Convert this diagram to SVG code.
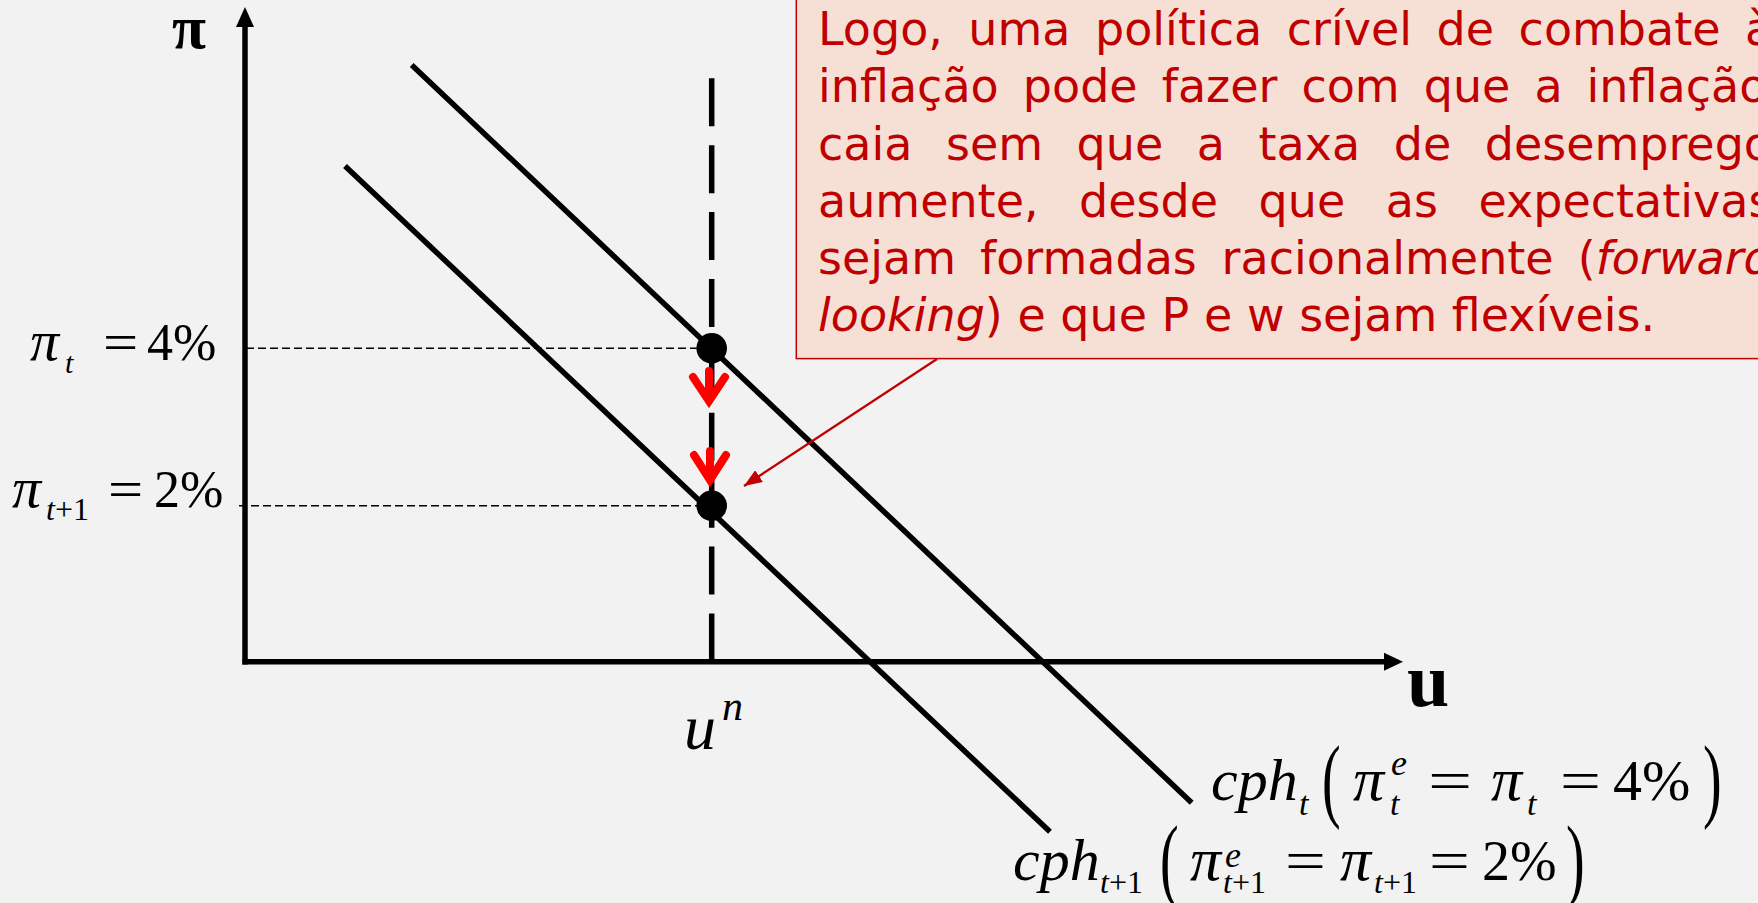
<svg xmlns="http://www.w3.org/2000/svg" width="1758" height="903" viewBox="0 0 1758 903">
<style>
.ax{stroke:#000;stroke-width:5.5;fill:none}
.cv{stroke:#000;stroke-width:5.5;fill:none;stroke-linecap:butt}
.dot{stroke:#000;stroke-width:1.6;stroke-dasharray:8 4;fill:none}
.red{stroke:#FF0000;stroke-width:8;fill:none;stroke-linecap:round;stroke-linejoin:miter}
.m{font-family:"Liberation Serif","Times New Roman",serif;fill:#000}
.i{font-style:italic}
.ct{font-family:"DejaVu Sans","Verdana",sans-serif;font-size:46px;fill:#C00000}
</style>
<defs>
<marker id="ah" markerUnits="userSpaceOnUse" markerWidth="20" markerHeight="14" refX="18" refY="7" orient="auto">
<path d="M0,0 L18,7 L0,14 Z" fill="#C00000"/>
</marker>
</defs>
<rect width="1758" height="903" fill="#F2F2F2"/>

<g id="axes">
<line class="ax" x1="245" y1="24" x2="245" y2="664.5"/>
<polygon points="245,7 236,27 254,27" fill="#000"/>
<line class="ax" x1="242.5" y1="661.7" x2="1386" y2="661.7"/>
<polygon points="1403,661.7 1384,652.7 1384,670.7" fill="#000"/>
<text class="m" x="172" y="48" font-size="62" font-weight="bold">π</text>
<text class="m" x="1407" y="706" font-size="76" font-weight="bold">u</text>
</g>

<g id="guides">
<line class="dot" x1="246" y1="348.3" x2="700" y2="348.3"/>
<line class="dot" x1="239" y1="505.7" x2="700" y2="505.7"/>
<line x1="711.7" y1="78.3" x2="711.7" y2="661" stroke="#000" stroke-width="5.5" stroke-dasharray="48 18.9"/>
</g>

<g id="curves">
<line class="cv" x1="411.7" y1="65" x2="1191.7" y2="802.7"/>
<line class="cv" x1="345" y1="166" x2="1050" y2="831.7"/>
</g>

<g id="points">
<circle cx="711.7" cy="348.3" r="15.3" fill="#000"/>
<circle cx="711.7" cy="505.7" r="15.3" fill="#000"/>
</g>

<g id="connectors">
<g id="drop1">
<line class="red" x1="709" y1="371" x2="709" y2="399"/>
<polyline class="red" points="693,377 709,401 725,377"/>
</g>
<g id="drop2">
<line class="red" x1="710" y1="451" x2="710" y2="478"/>
<polyline class="red" points="694,455 710,480 726,455"/>
</g>
<line id="pointer" x1="937" y1="359" x2="744" y2="486" stroke="#C00000" stroke-width="2.2" marker-end="url(#ah)"/>
</g>

<g id="label-pit">
<text class="m i" x="30" y="360" font-size="58">π</text>
<text class="m i" x="65" y="373" font-size="30">t</text>
<text class="m" transform="translate(103,360) scale(1.2,1)" font-size="52">=</text>
<text class="m" x="147" y="360" font-size="52">4%</text>
</g>
<g id="label-pit1">
<text class="m i" x="12" y="507" font-size="58">π</text>
<text class="m i" x="46" y="520" font-size="32">t<tspan font-style="normal">+1</tspan></text>
<text class="m" transform="translate(108,507) scale(1.2,1)" font-size="52">=</text>
<text class="m" x="154" y="507" font-size="52">2%</text>
</g>
<g id="label-un">
<text class="m i" x="684" y="749" font-size="64">u</text>
<text class="m i" x="722" y="720" font-size="42">n</text>
</g>

<g id="label-cpht">
<text class="m i" x="1211" y="800" font-size="60">cph</text>
<text class="m i" x="1299" y="815" font-size="34">t</text>
<text class="m" transform="translate(1322,810) scale(1,1.68)" font-size="56">(</text>
<text class="m i" x="1353" y="800" font-size="62">π</text>
<text class="m i" x="1391" y="775" font-size="36">e</text>
<text class="m i" x="1390" y="815" font-size="34">t</text>
<text class="m" transform="translate(1428,800) scale(1.35,1)" font-size="58">=</text>
<text class="m i" x="1491" y="800" font-size="62">π</text>
<text class="m i" x="1527" y="815" font-size="34">t</text>
<text class="m" transform="translate(1560,800) scale(1.25,1)" font-size="58">=</text>
<text class="m" x="1613" y="800" font-size="58">4%</text>
<text class="m" transform="translate(1703,810) scale(1,1.68)" font-size="56">)</text>
</g>
<g id="label-cpht1">
<text class="m i" x="1013" y="880" font-size="60">cph</text>
<text class="m i" x="1100" y="893" font-size="32">t<tspan font-style="normal">+1</tspan></text>
<text class="m" transform="translate(1160,890) scale(1,1.68)" font-size="56">(</text>
<text class="m i" x="1190" y="880" font-size="62">π</text>
<text class="m i" x="1225" y="867" font-size="36">e</text>
<text class="m i" x="1223" y="893" font-size="32">t<tspan font-style="normal">+1</tspan></text>
<text class="m" transform="translate(1285,880) scale(1.25,1)" font-size="58">=</text>
<text class="m i" x="1340" y="880" font-size="62">π</text>
<text class="m i" x="1374" y="893" font-size="32">t<tspan font-style="normal">+1</tspan></text>
<text class="m" transform="translate(1429,880) scale(1.25,1)" font-size="58">=</text>
<text class="m" x="1482" y="880" font-size="56">2%</text>
<text class="m" transform="translate(1566,890) scale(1,1.68)" font-size="56">)</text>
</g>

<g id="callout">
<rect x="796.3" y="-5" width="1000" height="363.6" fill="#F6E0D6" stroke="#C00000" stroke-width="1.5"/>
<text class="ct" y="45"><tspan x="818">Logo,</tspan><tspan x="968.3">uma</tspan><tspan x="1095">política</tspan><tspan x="1286.8">crível</tspan><tspan x="1436.6">de</tspan><tspan x="1518.6">combate</tspan><tspan x="1745.1">à</tspan></text>
<text class="ct" y="102"><tspan x="818">inflação</tspan><tspan x="1022.8">pode</tspan><tspan x="1161.7">fazer</tspan><tspan x="1301.4">com</tspan><tspan x="1423.7">que</tspan><tspan x="1534.4">a</tspan><tspan x="1586.6">inflação</tspan></text>
<text class="ct" y="159.5"><tspan x="818">caia</tspan><tspan x="946">sem</tspan><tspan x="1076.6">que</tspan><tspan x="1196.8">a</tspan><tspan x="1258.5">taxa</tspan><tspan x="1393.7">de</tspan><tspan x="1484.7">desemprego</tspan></text>
<text class="ct" y="217"><tspan x="818">aumente,</tspan><tspan x="1079.1">desde</tspan><tspan x="1258.6">que</tspan><tspan x="1385.8">as</tspan><tspan x="1478.5">expectativas</tspan></text>
<text class="ct" y="274"><tspan x="818">sejam</tspan><tspan x="980">formadas</tspan><tspan x="1221.6">racionalmente</tspan><tspan x="1577.7">(<tspan font-style="italic">forward</tspan></tspan></text>
<text class="ct" x="818" y="331"><tspan font-style="italic">looking</tspan>) e que P e w sejam flexíveis.</text>
</g>
</svg>
